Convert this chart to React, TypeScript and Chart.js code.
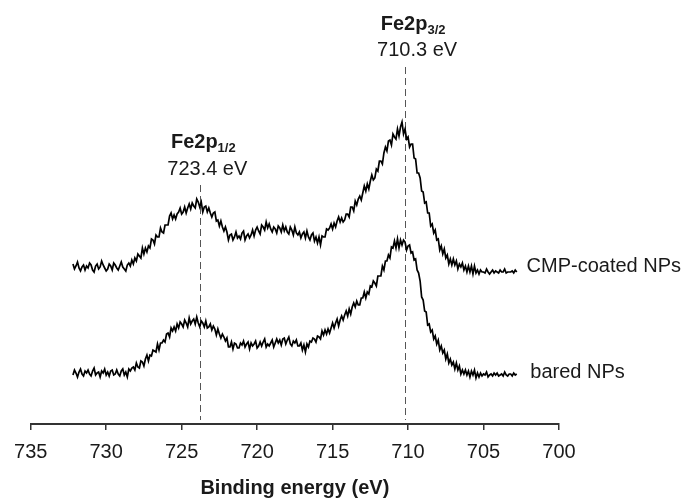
import React, { useEffect, useRef } from 'react';
import { Chart, registerables } from 'chart.js';

Chart.register(...registerables);

// Binding energy grid of the spectra (eV), channel start and step
const startEnergy = 732.2;
const energyStep = 0.1;

// CMP-coated NPs (upper trace), counts in arbitrary units, one per channel
const coatedCounts = [
  160, 155, 158, 162, 156, 153, 157, 159, 154, 158,
  156, 161, 159, 154, 152, 158, 160, 155, 157, 163,
  159, 156, 153, 155, 160, 158, 154, 161, 159, 156,
  154, 158, 162, 157, 155, 153, 159, 161, 158, 164,
  160, 166, 163, 170, 168, 166, 176, 170, 176, 172,
  178, 176, 185, 184, 180, 189, 187, 187, 196, 192,
  191, 199, 199, 199, 208, 211, 205, 209, 205, 210,
  212, 216, 210, 212, 217, 211, 216, 220, 215, 221,
  218, 216, 225, 222, 217, 222, 212, 217, 218, 212,
  216, 211, 207, 211, 212, 203, 204, 198, 203, 197,
  193, 197, 192, 184, 189, 190, 184, 187, 192, 186,
  188, 185, 191, 193, 184, 188, 190, 186, 189, 194,
  188, 194, 197, 193, 190, 199, 197, 194, 202, 196,
  200, 195, 192, 197, 195, 191, 198, 196, 192, 199,
  193, 197, 192, 190, 197, 194, 189, 197, 191, 189,
  192, 186, 190, 192, 186, 193, 187, 184, 189, 191,
  183, 187, 181, 187, 179, 188, 187, 187, 195, 194,
  196, 200, 195, 201, 197, 203, 207, 202, 206, 202,
  204, 210, 210, 207, 217, 217, 213, 223, 219, 225,
  228, 224, 231, 238, 233, 240, 235, 243, 249, 244,
  246, 255, 253, 263, 263, 260, 271, 277, 273, 283,
  284, 279, 290, 287, 285, 295, 288, 297, 302, 290,
  295, 285, 287, 277, 280, 280, 266, 265, 251, 251,
  246, 233, 232, 221, 222, 211, 211, 198, 200, 191,
  194, 184, 185, 174, 178, 170, 175, 166, 169, 160,
  165, 159, 165, 159, 163, 155, 160, 157, 161, 154,
  158, 152, 158, 152, 158, 150, 158, 151, 154, 150,
  154, 152, 152, 151, 155, 152, 150, 152, 154, 151,
  153, 152, 151, 154, 152, 152, 155, 151, 152, 152,
  152, 153, 151, 154, 152,
];

// bared NPs (lower trace)
const bareCounts = [
  49, 54, 51, 47, 52, 55, 50, 48, 53, 51,
  54, 50, 48, 53, 56, 49, 51, 52, 47, 53,
  51, 55, 49, 52, 48, 53, 54, 49, 50, 54,
  50, 48, 53, 55, 49, 52, 47, 55, 53, 56,
  57, 54, 61, 57, 56, 63, 62, 58, 65, 69,
  63, 69, 68, 74, 73, 72, 80, 74, 81, 81,
  84, 82, 90, 91, 87, 96, 93, 97, 93, 100,
  96, 102, 100, 97, 104, 101, 97, 106, 100, 103,
  105, 100, 107, 101, 97, 103, 101, 97, 103, 96,
  97, 100, 94, 98, 95, 89, 95, 90, 86, 90,
  87, 83, 86, 77, 77, 82, 75, 81, 80, 76,
  76, 81, 79, 83, 77, 80, 82, 75, 81, 78,
  80, 83, 76, 78, 82, 78, 82, 85, 77, 80,
  78, 81, 84, 77, 81, 85, 81, 84, 79, 85,
  86, 80, 84, 87, 80, 78, 83, 81, 84, 78,
  78, 81, 74, 79, 72, 80, 77, 83, 82, 86,
  85, 82, 88, 87, 85, 93, 89, 94, 90, 95,
  91, 96, 101, 96, 101, 105, 98, 104, 108, 104,
  109, 113, 108, 115, 110, 117, 121, 117, 123, 119,
  119, 126, 126, 132, 126, 132, 130, 138, 137, 143,
  141, 138, 148, 148, 148, 158, 154, 163, 163, 169,
  166, 177, 176, 183, 176, 185, 176, 184, 179, 184,
  182, 174, 178, 179, 171, 172, 164, 165, 154, 151,
  143, 127, 124, 113, 112, 99, 100, 92, 94, 85,
  88, 80, 84, 74, 78, 71, 74, 65, 70, 61,
  65, 59, 62, 55, 61, 54, 58, 50, 54, 50,
  54, 49, 53, 47, 53, 49, 54, 46, 51, 47,
  51, 48, 50, 49, 52, 47, 49, 50, 48, 51,
  49, 51, 48, 49, 50, 48, 52, 49, 48, 50,
  50, 48, 51, 49, 50,
];

const xMin = 700;
const xMax = 735;
const xStep = 5;
const yMin = 0;
const yMax = 424;

// Peak annotations
const peakNames = ['Fe2p', 'Fe2p'];
const peakSubscripts = ['1/2', '3/2'];
const peakValueLabels = ['723.4 eV', '710.3 eV'];
const peakLineEnergies = [723.8, 710.2];
const peakLineTops = [239, 357];
const peakLineBottom = 4;
const peakLabelEnergies = [723.3, 709.4];
const peakNameLevels = [282, 400];
const peakValueLevels = [255, 374];

// Trace labels
const seriesNames = ['CMP-coated NPs', 'bared NPs'];
const seriesLabelEnergies = [702.15, 701.9];
const seriesLabelLevels = [158, 52];

const FONT = '"Liberation Sans", Arial, sans-serif';
const INK = '#1a1a1a';

function toPoints(values: number[]) {
  return values.map((v, i) => ({ x: +(startEnergy - i * energyStep).toFixed(2), y: v }));
}

const annotationPlugin = {
  id: 'xpsAnnotations',
  beforeDatasetsDraw(chart: any) {
    const { ctx, scales } = chart;
    const xs = scales.x;
    const ys = scales.y;
    ctx.save();
    ctx.strokeStyle = '#555';
    ctx.lineWidth = 1;
    ctx.setLineDash([7, 4]);
    peakLineEnergies.forEach((e, i) => {
      const px = Math.round(xs.getPixelForValue(e)) + 0.5;
      ctx.beginPath();
      ctx.moveTo(px, ys.getPixelForValue(peakLineTops[i]));
      ctx.lineTo(px, ys.getPixelForValue(peakLineBottom));
      ctx.stroke();
    });
    ctx.restore();
  },
  afterDatasetsDraw(chart: any) {
    const { ctx, scales } = chart;
    const xs = scales.x;
    const ys = scales.y;
    ctx.save();
    ctx.fillStyle = INK;
    ctx.textBaseline = 'middle';
    peakNames.forEach((name, i) => {
      const cx = xs.getPixelForValue(peakLabelEnergies[i]);
      const nameY = ys.getPixelForValue(peakNameLevels[i]);
      ctx.font = `bold 20px ${FONT}`;
      const w1 = ctx.measureText(name).width;
      ctx.font = `bold 13px ${FONT}`;
      const w2 = ctx.measureText(peakSubscripts[i]).width;
      const start = cx - 4 - (w1 + w2) / 2;
      ctx.textAlign = 'left';
      ctx.font = `bold 20px ${FONT}`;
      ctx.fillText(name, start, nameY);
      ctx.font = `bold 13px ${FONT}`;
      ctx.fillText(peakSubscripts[i], start + w1, nameY + 6);
      ctx.font = `20px ${FONT}`;
      ctx.textAlign = 'center';
      ctx.fillText(peakValueLabels[i], cx, ys.getPixelForValue(peakValueLevels[i]));
    });
    ctx.font = `20px ${FONT}`;
    ctx.textAlign = 'left';
    seriesNames.forEach((name, i) => {
      ctx.fillText(
        name,
        xs.getPixelForValue(seriesLabelEnergies[i]),
        ys.getPixelForValue(seriesLabelLevels[i])
      );
    });
    ctx.restore();
  },
};

export default function App() {
  const canvasRef = useRef<HTMLCanvasElement | null>(null);

  useEffect(() => {
    if (!canvasRef.current) return;
    const chart = new Chart(canvasRef.current, {
      type: 'line',
      data: {
        datasets: [
          {
            label: seriesNames[0],
            data: toPoints(coatedCounts),
            borderColor: '#000',
            borderWidth: 1.7,
            pointRadius: 0,
            tension: 0,
            fill: false,
          },
          {
            label: seriesNames[1],
            data: toPoints(bareCounts),
            borderColor: '#000',
            borderWidth: 1.7,
            pointRadius: 0,
            tension: 0,
            fill: false,
          },
        ],
      },
      options: {
        animation: false,
        responsive: false,
        devicePixelRatio: 1,
        parsing: false as any,
        layout: { padding: { left: 30.7, right: 127, top: 0, bottom: 0 } },
        plugins: {
          legend: { display: false },
          tooltip: { enabled: false },
        },
        scales: {
          x: {
            type: 'linear',
            reverse: true,
            min: xMin,
            max: xMax,
            afterFit: (scale: any) => {
              scale.height = 74;
            },
            afterBuildTicks: (scale: any) => {
              const t = [];
              for (let v = xMin; v <= xMax; v += xStep) t.push({ value: v });
              scale.ticks = t;
            },
            ticks: {
              color: INK,
              font: { family: FONT, size: 20 },
              padding: 10,
              maxRotation: 0,
              callback: (v: any) => String(v),
            },
            grid: {
              display: true,
              drawOnChartArea: false,
              drawTicks: true,
              tickLength: 6,
              color: '#333',
              lineWidth: 1.5,
            },
            border: { display: true, color: '#333', width: 2 },
            title: {
              display: true,
              text: 'Binding energy (eV)',
              color: INK,
              font: { family: FONT, size: 20, weight: 'bold' },
              padding: { top: 0, bottom: -2 },
            },
          },
          y: {
            type: 'linear',
            display: false,
            min: yMin,
            max: yMax,
          },
        },
      },
      plugins: [annotationPlugin],
    });
    return () => chart.destroy();
  }, []);

  return (
    <div style={{ position: 'fixed', left: 0, top: 0, width: 686, height: 498, background: '#fff' }}>
      <canvas ref={canvasRef} width={686} height={498} style={{ display: 'block' }} />
    </div>
  );
}
